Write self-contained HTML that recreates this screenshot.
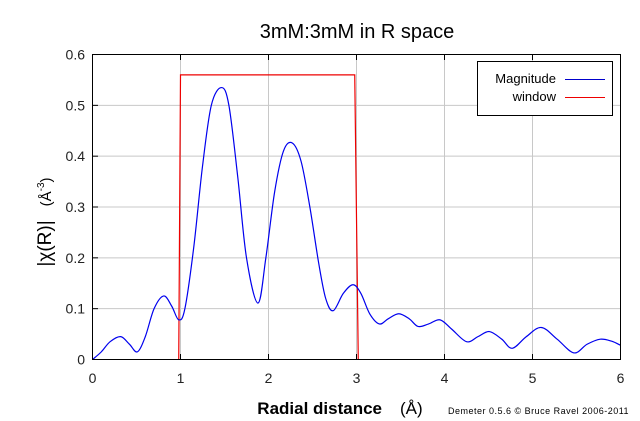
<!DOCTYPE html>
<html><head><meta charset="utf-8"><style>
body{margin:0;background:#fff;}
svg{display:block;font-family:"Liberation Sans",sans-serif;}
</style></head><body>
<svg id="chart" width="640" height="421" viewBox="0 0 640 421">
<rect width="640" height="421" fill="#fff"/>
<text x="357" y="38" font-size="20" text-anchor="middle" fill="#000">3mM:3mM in R space</text>
<g id="grid"></g>
<g id="series"></g>
<rect x="92.5" y="54.5" width="528" height="305" fill="none" stroke="#000" stroke-width="1"/>
<g id="ticks"></g>
<text transform="translate(51,222) rotate(-90)" font-size="19" text-anchor="middle" fill="#000">|χ(R)|<tspan dx="14" font-size="15">(Å</tspan><tspan font-size="10" dy="-7">-3</tspan><tspan font-size="15" dy="7">)</tspan></text>
<text x="340" y="414" font-size="17" font-weight="bold" text-anchor="middle" fill="#000">Radial distance<tspan dx="18" font-weight="normal">(Å)</tspan></text>
<text x="448" y="414" font-size="9" letter-spacing="0.5" fill="#000">Demeter 0.5.6 © Bruce Ravel 2006-2011</text>
<g>
<rect x="477.5" y="61.5" width="135" height="54" fill="#fff" stroke="#000"/>
<text x="556" y="83" font-size="13" text-anchor="end">Magnitude</text>
<line x1="565" y1="79.5" x2="605" y2="79.5" stroke="#0000cc"/>
<text x="556" y="101" font-size="13" text-anchor="end">window</text>
<line x1="565" y1="97.5" x2="605" y2="97.5" stroke="#ee0000"/>
</g>
</svg>
<script>
const magR=[0,0.1,0.2,0.32,0.42,0.51,0.6,0.7,0.81,0.9,0.98,1.05,1.15,1.25,1.35,1.466,1.55,1.65,1.75,1.88,1.97,2.07,2.17,2.27,2.37,2.47,2.57,2.65,2.735,2.85,2.96,3.05,3.15,3.26,3.36,3.48,3.6,3.7,3.82,3.95,4.08,4.25,4.38,4.51,4.65,4.77,4.93,5.1,5.28,5.47,5.62,5.77,5.9,6.0];
const magVal=[0,0.015,0.035,0.045,0.03,0.015,0.045,0.1,0.125,0.105,0.078,0.1,0.22,0.38,0.5,0.535,0.5,0.36,0.2,0.111,0.2,0.33,0.41,0.426,0.39,0.3,0.19,0.12,0.096,0.13,0.147,0.13,0.09,0.07,0.08,0.09,0.08,0.065,0.07,0.078,0.06,0.035,0.045,0.055,0.04,0.022,0.045,0.063,0.04,0.013,0.03,0.04,0.036,0.028];
const winR=[0.98,1.0,2.98,3.02];
const winVal=[0,0.56,0.56,0];
const xTicks=[0,1,2,3,4,5,6];
const yTicks=[0,0.1,0.2,0.3,0.4,0.5,0.6];
const yTickLabels=["0","0.1","0.2","0.3","0.4","0.5","0.6"];
const NS="http://www.w3.org/2000/svg";
const X=v=>92.5+v*88;
const Y=v=>359.5-v*508.3;
const grid=document.getElementById('grid'),ticks=document.getElementById('ticks'),series=document.getElementById('series');
function mk(tag,attrs,parent){const e=document.createElementNS(NS,tag);for(const k in attrs)e.setAttribute(k,attrs[k]);parent.appendChild(e);return e;}
xTicks.forEach(t=>{
 if(t>0&&t<6){const g=mk('line',{x1:X(t),x2:X(t),y1:54.5,y2:359.5,stroke:'#c8c8c8'},grid);
 
 }
 const tk=mk('line',{x1:X(t),x2:X(t),y1:354,y2:359.5,stroke:'#000'},ticks);
 
 
 const tk2=mk('line',{x1:X(t),x2:X(t),y1:54.5,y2:60,stroke:'#000'},ticks);
 
 
 const l=mk('text',{x:X(t),y:383,'font-size':14,'text-anchor':'middle',fill:'#222'},ticks);l.textContent=t;
 
 
});
yTicks.forEach((t,i)=>{
 if(t>0&&t<0.6){const g=mk('line',{x1:92.5,x2:620.5,y1:Y(t),y2:Y(t),stroke:'#c8c8c8'},grid);
 
 }
 const tk=mk('line',{x1:92.5,x2:98,y1:Y(t),y2:Y(t),stroke:'#000'},ticks);
 
 
 const l=mk('text',{x:85,y:Y(t)+5,'font-size':14,'text-anchor':'end',fill:'#222'},ticks);l.textContent=yTickLabels[i];
 
 
});
let wd='';winR.forEach((r,i)=>{wd+=(i?'L':'M')+X(r)+','+Y(winVal[i]);});
const wp=mk('path',{d:wd,fill:'none',stroke:'#ee0000','stroke-width':1.2},series);


const pts=magR.map((r,i)=>[X(r),Y(magVal[i])]);
let d='M'+pts[0][0]+','+pts[0][1];
for(let i=0;i<pts.length-1;i++){const p0=pts[Math.max(0,i-1)],p1=pts[i],p2=pts[i+1],p3=pts[Math.min(pts.length-1,i+2)];
 d+='C'+(p1[0]+(p2[0]-p0[0])/6)+','+(p1[1]+(p2[1]-p0[1])/6)+' '+(p2[0]-(p3[0]-p1[0])/6)+','+(p2[1]-(p3[1]-p1[1])/6)+' '+p2[0]+','+p2[1];}
const mp=mk('path',{d:d,fill:'none',stroke:'#0000ee','stroke-width':1.2},series);


</script>
</body></html>
